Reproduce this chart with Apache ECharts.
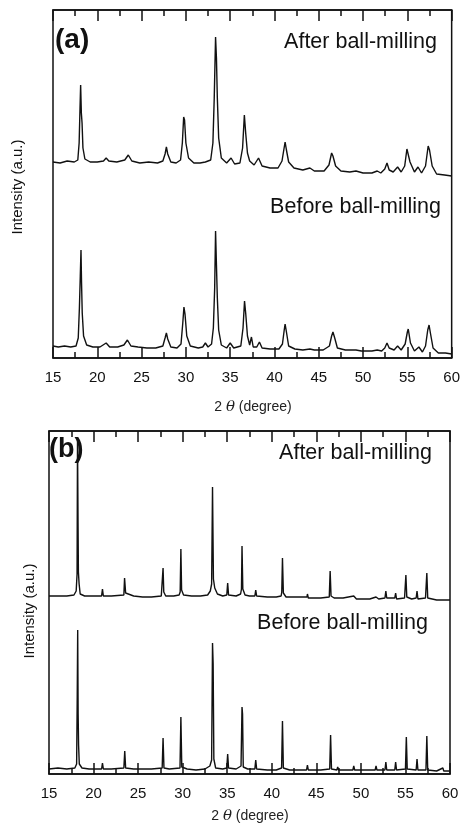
<!DOCTYPE html>
<html>
<head>
<meta charset="utf-8">
<script src="https://cdn.jsdelivr.net/npm/echarts@6/dist/echarts.min.js"></script>
<style>
  html, body { margin: 0; padding: 0; background: #fff; }
  #chart { width: 463px; height: 830px; }
</style>
</head>
<body>
<div id="chart"></div>
<script>
// 2theta range and ticks
var xMin = 15, xMax = 60, xStep = 5;

// panel (a): [2theta, intensity a.u.]
var afterA = [[15,196],[15.8,195],[16.6,197],[17.4,196],[17.8,198],[17.95,215],[18.05,250],[18.12,273],[18.2,245],[18.28,235],[18.38,210],[18.6,199],[19.2,196],[20.0,196],[20.7,197],[21.0,200],[21.3,197],[22.2,196],[23.1,198],[23.5,203],[23.9,197],[24.8,195],[25.8,196],[26.8,195],[27.4,197],[27.65,204],[27.8,211],[27.95,204],[28.3,196],[28.9,195],[29.4,198],[29.6,215],[29.75,241],[29.85,238],[30.0,215],[30.3,200],[30.9,195],[31.6,195],[32.2,196],[32.8,198],[33.05,215],[33.2,260],[33.35,321],[33.45,300],[33.55,260],[33.7,220],[34.0,200],[34.6,195],[35.1,200],[35.5,194],[36.1,195],[36.4,210],[36.6,243],[36.75,225],[36.95,205],[37.2,197],[37.4,196],[37.7,193],[38.2,200],[38.6,192],[39.5,190],[40.4,190],[40.85,197],[41.05,208],[41.2,216],[41.35,208],[41.6,196],[42.2,190],[43.2,188],[44.0,190],[44.5,187],[45.6,187],[46.15,193],[46.45,205],[46.6,202],[46.9,192],[47.5,187],[48.5,186],[49.2,187],[50.0,185],[51.0,185],[51.6,187],[52.0,185],[52.45,189],[52.7,195],[52.95,188],[53.4,186],[53.9,191],[54.3,186],[54.7,192],[54.95,209],[55.05,211],[55.3,196],[55.8,186],[56.2,191],[56.6,185],[57.05,192],[57.35,212],[57.5,208],[57.8,192],[58.3,184],[59.2,183],[60,182]];
var beforeA = [[15,12],[15.6,11],[16.3,12],[17.0,11],[17.6,12],[17.85,20],[17.98,50],[18.08,82],[18.16,108],[18.22,76],[18.3,45],[18.45,22],[18.8,13],[19.5,11],[20.3,11],[21.0,15],[21.4,11],[22.3,11],[23.0,13],[23.4,18],[23.8,12],[24.6,11],[25.6,10],[26.6,10],[27.4,12],[27.65,20],[27.8,25],[27.95,19],[28.3,11],[29.0,10],[29.45,14],[29.65,35],[29.78,51],[29.9,44],[30.1,22],[30.5,12],[31.4,10],[31.9,11],[32.2,15],[32.5,11],[32.9,14],[33.1,30],[33.25,70],[33.35,127],[33.45,93],[33.55,60],[33.7,28],[34.0,13],[34.6,10],[35.0,15],[35.4,10],[36.2,12],[36.45,30],[36.62,57],[36.75,45],[36.95,22],[37.2,13],[37.4,21],[37.6,11],[38.0,11],[38.3,16],[38.6,10],[39.5,9],[40.5,9],[40.9,14],[41.1,28],[41.2,34],[41.35,26],[41.6,12],[42.3,9],[43.2,8],[44.0,9],[44.5,8],[45.5,8],[46.2,12],[46.45,22],[46.6,26],[46.8,20],[47.1,10],[48.0,8],[49.2,8],[49.8,7],[51.0,7],[51.6,8],[52.1,7],[52.45,10],[52.7,15],[52.95,10],[53.5,8],[53.9,12],[54.3,8],[54.75,14],[55.0,26],[55.1,29],[55.35,15],[55.8,7],[56.3,11],[56.7,6],[57.05,12],[57.3,28],[57.45,33],[57.6,25],[57.9,10],[58.5,5],[59.3,5],[60,4]];

// panel (b)
var afterB = [[15,178],[16,178],[17,178],[17.8,179],[18.05,183],[18.15,200],[18.2,335],[18.26,250],[18.3,202],[18.38,190],[18.5,180],[19,178],[20.0,178],[20.9,178],[21.0,185],[21.1,178],[22,178],[23.4,179],[23.48,196],[23.6,181],[24.5,178],[25.5,177],[26.5,177],[27.6,178],[27.72,180],[27.8,206],[27.88,182],[28.1,178],[29,178],[29.6,179],[29.72,182],[29.8,225],[29.88,184],[30.1,179],[31,178],[32,178],[32.8,179],[33.1,183],[33.25,190],[33.35,287],[33.45,195],[33.6,186],[33.9,180],[34.5,178],[34.95,179],[35.05,191],[35.15,179],[36,178],[36.5,180],[36.6,185],[36.66,228],[36.75,185],[37,179],[37.5,178],[38.1,178],[38.2,184],[38.3,178],[39.5,177],[40.5,177],[41.05,178],[41.12,182],[41.2,216],[41.3,181],[41.6,177],[43,177],[43.95,177],[44.0,180],[44.1,176],[45.5,176],[46.45,177],[46.55,203],[46.65,178],[47,176],[48,176],[49.2,178],[49.5,175],[51,175],[51.7,177],[52,175],[52.7,176],[52.8,183],[52.9,176],[53.8,176],[53.9,181],[54,175],[54.9,176],[55.05,199],[55.15,177],[55.7,175],[56.2,176],[56.3,183],[56.4,175],[57.25,176],[57.4,201],[57.5,176],[58.5,174],[59.5,174],[60,174]];
var beforeB = [[15,5],[16,6],[17,5],[17.9,6],[18.1,10],[18.17,80],[18.22,144],[18.27,60],[18.32,29],[18.4,10],[18.7,6],[19.5,5],[20.3,5],[20.9,5],[21.0,11],[21.1,5],[22,5],[23.4,6],[23.5,23],[23.6,6],[24.5,5],[25.5,5],[26.5,5],[27.7,6],[27.8,36],[27.9,6],[28.5,5],[29.7,6],[29.8,57],[29.9,7],[30.5,5],[31.5,4],[32.5,5],[33.05,8],[33.25,14],[33.35,131],[33.42,110],[33.5,15],[33.7,6],[34.5,5],[34.95,6],[35.05,20],[35.15,6],[36,5],[36.55,8],[36.66,67],[36.72,60],[36.8,7],[37.3,5],[38.1,5],[38.2,14],[38.3,5],[39.5,4],[40.5,4],[41.1,6],[41.2,53],[41.3,6],[42,4],[43.9,4],[44.0,9],[44.1,4],[45.5,4],[46.5,5],[46.6,39],[46.7,5],[47.3,4],[47.4,7],[47.5,4],[49.1,4],[49.2,8],[49.3,4],[51.6,4],[51.7,8],[51.8,4],[52.7,4],[52.8,12],[52.9,4],[53.8,4],[53.9,12],[54,4],[55.0,5],[55.1,37],[55.2,5],[56.2,4],[56.3,15],[56.4,4],[57.3,4],[57.4,38],[57.5,4],[58.5,3],[59.2,6],[59.3,3],[60,3]];

var yMaxA = 348, yMaxB = 343;
var font = 'Liberation Sans, Arial, sans-serif';
var ink = '#111';

function xAxisOf(grid, pos, labels) {
    return {
        type: 'value', gridIndex: grid, position: pos,
        min: xMin, max: xMax, interval: xStep,
        axisLine: { show: true, lineStyle: { color: ink, width: 1.5 } },
        axisTick: { show: true, inside: true, length: 11, lineStyle: { color: ink, width: 1.5 } },
        minorTick: { show: true, splitNumber: 2, length: 6, lineStyle: { color: ink, width: 1.5 } },
        axisLabel: { show: labels, color: ink, fontSize: 15, fontFamily: font, margin: 12 },
        splitLine: { show: false }
    };
}
function yAxisOf(grid, max) {
    return {
        type: 'value', gridIndex: grid, min: 0, max: max,
        axisLine: { show: false }, axisTick: { show: false },
        axisLabel: { show: false }, splitLine: { show: false }
    };
}
function trace(data, xi, yi) {
    return {
        type: 'line', xAxisIndex: xi, yAxisIndex: yi, data: data,
        showSymbol: false, silent: true, animation: false,
        lineStyle: { color: ink, width: 1.4 }
    };
}
// text centred vertically on y
function txt(x, y, s, size, weight, align, rot) {
    return {
        type: 'text', x: x, y: y, rotation: rot || 0,
        style: { text: s, fontSize: size, fontWeight: weight || 'normal', fontFamily: font,
                 fill: ink, align: align || 'left', verticalAlign: 'middle' }
    };
}
function xName(cx, y) {
    return {
        type: 'text', x: cx, y: y,
        style: {
            text: '{n|2 }{t|θ}{n| (degree)}', align: 'center', verticalAlign: 'middle',
            rich: {
                n: { fontSize: 14, fontFamily: font, fill: '#222' },
                t: { fontSize: 15, fontFamily: 'DejaVu Serif', fontStyle: 'italic', fill: '#222' }
            }
        }
    };
}

var chart = echarts.init(document.getElementById('chart'));
chart.setOption({
    backgroundColor: '#fff',
    animation: false,
    grid: [
        { left: 53, top: 10, width: 399, height: yMaxA, show: true, borderColor: ink, borderWidth: 1.5 },
        { left: 49, top: 431, width: 401, height: yMaxB, show: true, borderColor: ink, borderWidth: 1.5 }
    ],
    xAxis: [
        xAxisOf(0, 'bottom', true), xAxisOf(0, 'top', false),
        xAxisOf(1, 'bottom', true), xAxisOf(1, 'top', false)
    ],
    yAxis: [yAxisOf(0, yMaxA), yAxisOf(1, yMaxB)],
    series: [
        trace(afterA, 0, 0), trace(beforeA, 0, 0),
        trace(afterB, 2, 1), trace(beforeB, 2, 1)
    ],
    graphic: [
        txt(55, 40, '(a)', 28, 'bold'),
        txt(437, 42, 'After ball-milling', 21.5, 'normal', 'right'),
        txt(441, 207, 'Before ball-milling', 21.5, 'normal', 'right'),
        txt(49, 450, '(b)', 27, 'bold'),
        txt(432, 453, 'After ball-milling', 21.5, 'normal', 'right'),
        txt(428, 623, 'Before ball-milling', 21.5, 'normal', 'right'),
        txt(18, 187, 'Intensity (a.u.)', 15, 'normal', 'center', Math.PI / 2),
        txt(30, 611, 'Intensity (a.u.)', 15, 'normal', 'center', Math.PI / 2),
        xName(253, 407),
        xName(250, 816)
    ]
});
</script>
</body>
</html>
